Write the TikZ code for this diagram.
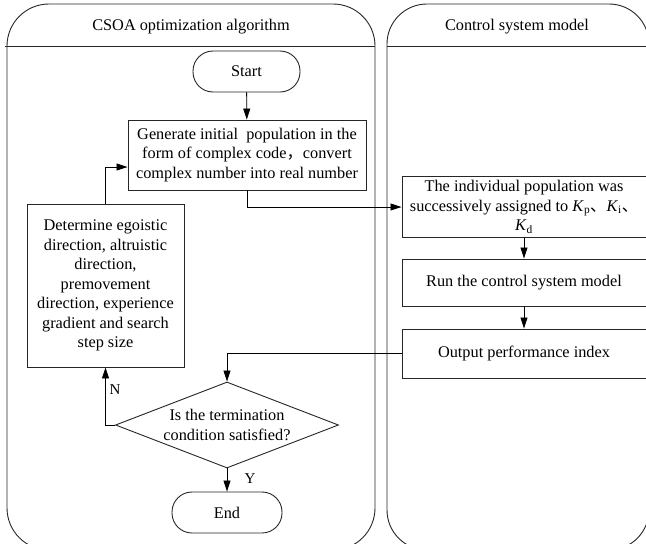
\documentclass[tikz,border=0pt]{standalone}
\usepackage{fontspec}
\setmainfont{Liberation Serif}
\newfontfamily\cjk{Noto Sans CJK SC}
\usetikzlibrary{shapes.geometric,arrows.meta}
\begin{document}
\begin{tikzpicture}[x=1pt,y=-1pt,
  every node/.style={font=\fontsize{16.3}{19.5}\selectfont},
  panel/.style={draw=black!85, line width=0.9pt},
  box/.style={draw=black!85, line width=0.9pt, align=center, inner sep=0pt, rectangle},
  term/.style={draw=black!85, line width=0.9pt, rectangle, rounded corners=20pt, inner sep=0pt},
  decision/.style={draw=black!85, line width=0.9pt, diamond, aspect=2.6, inner sep=0pt, align=center},
  lab/.style={font=\fontsize{15}{18}\selectfont, inner sep=0pt},
  arr/.style={-{Triangle[length=11pt,width=7pt]}, line width=0.8pt, draw=black}]
\useasboundingbox (0,0) rectangle (646,544);
\begin{scope}
\clip (0,0) rectangle (646,544);
% panels
\draw[panel, rounded corners=42pt] (7,550) -- (7,4) -- (375,4) -- (375,550) -- cycle;
\draw[panel] (5,46) -- (375,46);
\draw[panel, rounded corners=40pt] (387,550) -- (387,4) -- (649,4) -- (649,550) -- cycle;
\draw[panel] (387,46) -- (646,46);
\end{scope}
\node (t1) at (191,27) {CSOA optimization algorithm};
\node (t2) at (517,27) {Control system model};
% left flow
\node[term, minimum width=107pt, minimum height=41pt] (start) at (246.5,71.5) {Start};
\node[box, minimum width=238pt, minimum height=70pt] (gen) at (247,155)
  {Generate initial\ \ population in the\\form of complex code{\cjk ，}convert\\complex number into real number};
\node[box, minimum width=157pt, minimum height=163pt] (det) at (105.5,285.5)
  {Determine egoistic\\direction, altruistic\\direction,\\premovement\\direction, experience\\gradient and search\\step size};
\node[decision, minimum width=223pt, minimum height=86pt] (dia) at (227,425)
  {Is the termination\\condition satisfied?};
\node[term, minimum width=110pt, minimum height=41pt] (end) at (227,512.5) {End};
% right flow
\node[box, minimum width=244pt, minimum height=61pt] (ind) at (524,207)
  {The individual population was\\successively assigned to \textit{K}\textsubscript{p}{\cjk 、}\textit{K}\textsubscript{i}{\cjk 、}\\\textit{K}\textsubscript{d}};
\node[box, minimum width=244pt, minimum height=47pt] (run) at (524,282.5) {Run the control system model};
\node[box, minimum width=244pt, minimum height=49pt] (out) at (524,353.5) {Output performance index};
% labels
\node[lab] (nlab) at (115,390) {N};
\node[lab] (ylab) at (250,479) {Y};
% connectors
\draw[arr] (start) -- (gen);
\draw[arr] (gen.south) |- (ind.west);
\draw[arr] (ind) -- (run);
\draw[arr] (run) -- (out);
\draw[arr] (out.west) -| (dia.north);
\draw[arr] (dia.west) -| (det.south);
\draw[arr] (det.north) |- ([yshift=-12pt]gen.west);
\draw[arr] (dia.south) -- (end.north);
\end{tikzpicture}
\end{document}
